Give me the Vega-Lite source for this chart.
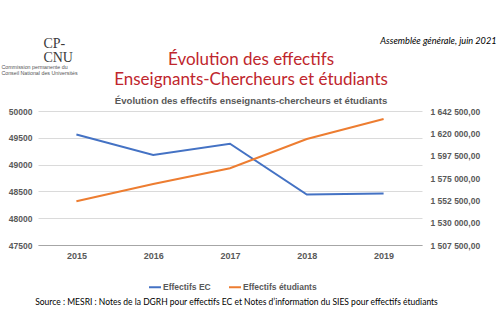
{
  "$schema": "https://vega.github.io/schema/vega-lite/v6.json",
  "width": 384,
  "height": 134,
  "autosize": {"type": "none"},
  "padding": {"left": 38, "top": 111, "right": 78, "bottom": 79},
  "background": "white",
  "config": {
    "locale": {"number": {"decimal": ",", "thousands": " ", "grouping": [3], "currency": ["", ""]}},
    "view": {"stroke": null},
    "font": "Liberation Sans",
    "axisLeft": {"labelOverlap": false, "labelBound": false, "domain": false, "ticks": false, "gridColor": "#DADADA", "labelFont": "Liberation Sans", "labelFontWeight": "bold", "labelFontSize": 8.5, "labelColor": "#595959", "labelPadding": 6, "title": null}
  },
  "title": {
    "text": ["Évolution des effectifs", "Enseignants-Chercheurs et étudiants"],
    "subtitle": "Évolution des effectifs enseignants-chercheurs et étudiants",
    "anchor": "middle",
    "dx": 21,
    "dy": 78,
    "color": "#C0262D",
    "font": "Lato",
    "fontSize": 17,
    "fontWeight": "normal",
    "lineHeight": 20,
    "subtitleFont": "Liberation Sans",
    "subtitleFontSize": 9.6,
    "subtitleFontWeight": "bold",
    "subtitleColor": "#595959",
    "subtitlePadding": 7,
    "offset": 8
  },
  "data": {
    "values": [
      {"year": "2015", "ec": 49560, "etu": 1551500},
      {"year": "2016", "ec": 49180, "etu": 1569000},
      {"year": "2017", "ec": 49390, "etu": 1584800},
      {"year": "2018", "ec": 48440, "etu": 1614300},
      {"year": "2019", "ec": 48460, "etu": 1634400}
    ]
  },
  "encoding": {
    "x": {
      "field": "year",
      "type": "ordinal",
      "axis": {
        "title": "Source : MESRI : Notes de la DGRH pour effectifs EC et Notes d’information du SIES pour effectifs étudiants",
        "titleFont": "Lato",
        "titleFontSize": 8.5,
        "titleFontWeight": "normal",
        "titleColor": "#000000",
        "titleX": 198,
        "titleY": 59,
        "titleBaseline": "alphabetic",
        "labelAngle": 0,
        "labelFont": "Liberation Sans",
        "labelFontWeight": "bold",
        "labelFontSize": 9,
        "labelColor": "#595959",
        "labelPadding": 6,
        "ticks": false,
        "domainColor": "#A6A6A6",
        "domainWidth": 1
      }
    }
  },
  "layer": [
    {
      "layer": [
        {
          "mark": {"type": "line", "strokeWidth": 2},
          "encoding": {
            "y": {
              "field": "ec",
              "type": "quantitative",
              "title": null,
              "scale": {"domain": [47500, 50000], "nice": false, "zero": false},
              "axis": {"orient": "left", "values": [47500, 48000, 48500, 49000, 49500, 50000], "format": "d", "labelOverlap": false}
            },
            "color": {
              "datum": "Effectifs EC",
              "type": "nominal",
              "scale": {"domain": ["Effectifs EC", "Effectifs étudiants"], "range": ["#4472C4", "#ED7D31"]},
              "legend": {
                "title": null,
                "orient": "none",
                "direction": "horizontal",
                "legendX": 110,
                "legendY": 169,
                "padding": 0,
                "symbolType": "stroke",
                "symbolSize": 144,
                "symbolStrokeWidth": 2,
                "labelOffset": 1,
                "columnPadding": 14,
                "labelFont": "Liberation Sans",
                "labelFontWeight": "bold",
                "labelFontSize": 8.5,
                "labelColor": "#595959"
              }
            }
          }
        },
        {
          "data": {"values": [{"t": "Assemblée générale, juin 2021"}]},
          "mark": {"type": "text", "align": "right", "baseline": "alphabetic", "dx": 113, "font": "Lato", "fontStyle": "italic", "fontSize": 9.2, "color": "#000000"},
          "encoding": {
            "x": {"datum": "2019", "type": "ordinal"},
            "y": {"datum": 51250, "type": "quantitative", "title": null, "axis": {"orient": "left", "values": [47500, 48000, 48500, 49000, 49500, 50000], "format": "d", "labelOverlap": false}},
            "text": {"field": "t"}
          }
        },
        {
          "data": {"values": [{"t": "CP-\nCNU"}]},
          "mark": {"type": "text", "align": "left", "baseline": "alphabetic", "dx": -33, "lineBreak": "\n", "lineHeight": 14, "font": "Liberation Serif", "fontSize": 14, "color": "#3A3A3A"},
          "encoding": {
            "x": {"datum": "2015", "type": "ordinal"},
            "y": {"datum": 51175, "type": "quantitative", "title": null, "axis": {"orient": "left", "values": [47500, 48000, 48500, 49000, 49500, 50000], "format": "d", "labelOverlap": false}},
            "text": {"field": "t"}
          }
        },
        {
          "data": {"values": [{"t": "Commission permanente du\nConseil National des Universités"}]},
          "mark": {"type": "text", "align": "left", "baseline": "alphabetic", "dx": -75, "lineBreak": "\n", "lineHeight": 6, "font": "Liberation Sans", "fontSize": 5.3, "color": "#555555"},
          "encoding": {
            "x": {"datum": "2015", "type": "ordinal"},
            "y": {"datum": 50784, "type": "quantitative", "title": null, "axis": {"orient": "left", "values": [47500, 48000, 48500, 49000, 49500, 50000], "format": "d", "labelOverlap": false}},
            "text": {"field": "t"}
          }
        }
      ]
    },
    {
      "mark": {"type": "line", "strokeWidth": 2},
      "encoding": {
        "y": {
          "field": "etu",
          "type": "quantitative",
          "scale": {"domain": [1507500, 1642500], "nice": false, "zero": false},
          "axis": {
            "orient": "right",
            "title": null,
            "values": [1507500, 1530000, 1552500, 1575000, 1597500, 1620000, 1642500],
            "format": ",.2f",
            "labelOverlap": false,
            "labelBound": false,
            "grid": false,
            "domain": false,
            "ticks": false,
            "labelFont": "Liberation Sans",
            "labelFontWeight": "bold",
            "labelFontSize": 8.5,
            "labelColor": "#595959",
            "labelPadding": 8
          }
        },
        "color": {"datum": "Effectifs étudiants", "type": "nominal"}
      }
    }
  ],
  "resolve": {"scale": {"y": "independent"}}
}
